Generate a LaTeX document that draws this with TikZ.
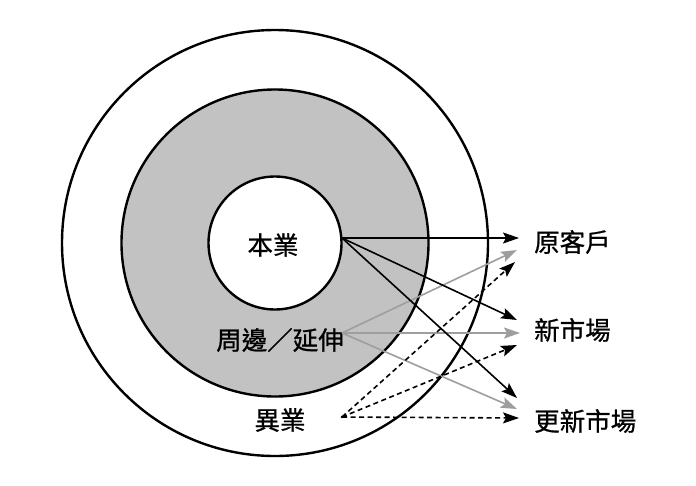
\documentclass[tikz,border=0pt]{standalone}
\usepackage{fontspec}
\newfontfamily\cjk[FakeBold=0.8]{Noto Sans CJK TC}
\usetikzlibrary{arrows.meta}
\definecolor{ringgray}{RGB}{193,194,193}
\definecolor{arrowgray}{RGB}{158,158,158}
\begin{document}
\begin{tikzpicture}[x=1pt,y=-1pt,
  ring/.style={draw=black,line width=2.4pt},
  lbl/.style={font=\cjk\fontsize{25.5}{28}\selectfont, inner sep=0pt},
  arr/.style={line width=1.6pt,-{Stealth[length=16pt,width=11pt,inset=3pt]}},
  blackarr/.style={arr,draw=black},
  grayarr/.style={arr,draw=arrowgray,fill=arrowgray},
  dasharr/.style={arr,draw=black,dash pattern=on 5pt off 3.5pt}]
\useasboundingbox (0,0) rectangle (696,485);
\fill[white] (0,0) rectangle (696,485);
% rings
\draw[ring] (275,243) circle (213pt);
\draw[ring,fill=ringgray] (275,243) circle (153.5pt);
\draw[ring,fill=white] (275,243) circle (66.5pt);
% labels
\node[lbl] (core) at (273,245) {本業};
\node[lbl] (ext) at (280,340) {周邊／延伸};
\node[lbl] (diff) at (280,420) {異業};
\node[lbl,anchor=west] (old) at (534,242) {原客戶};
\node[lbl,anchor=west] (new) at (534,330) {新市場};
\node[lbl,anchor=west] (renew) at (534,421) {更新市場};
% sources
\coordinate (s1) at (342,238);
\coordinate (s2) at (342,333);
\coordinate (s3) at (342,417);
% tips
\coordinate (t11) at (519,238);
\coordinate (t12) at (517,320);
\coordinate (t13) at (517,398);
\coordinate (t21) at (517,250);
\coordinate (t22) at (520,333);
\coordinate (t23) at (517,409);
\coordinate (t31) at (515,262);
\coordinate (t32) at (517,345);
\coordinate (t33) at (519,418);
% arrows
\draw[grayarr] (s2) -- (t21);
\draw[grayarr] (s2) -- (t22);
\draw[grayarr] (s2) -- (t23);
\draw[dasharr] (s3) -- (t31);
\draw[dasharr] (s3) -- (t32);
\draw[dasharr] (s3) -- (t33);
\draw[blackarr] (s1) -- (t11);
\draw[blackarr] (s1) -- (t12);
\draw[blackarr] (s1) -- (t13);
\fill (s3) circle (1.4pt);
\end{tikzpicture}
\end{document}
